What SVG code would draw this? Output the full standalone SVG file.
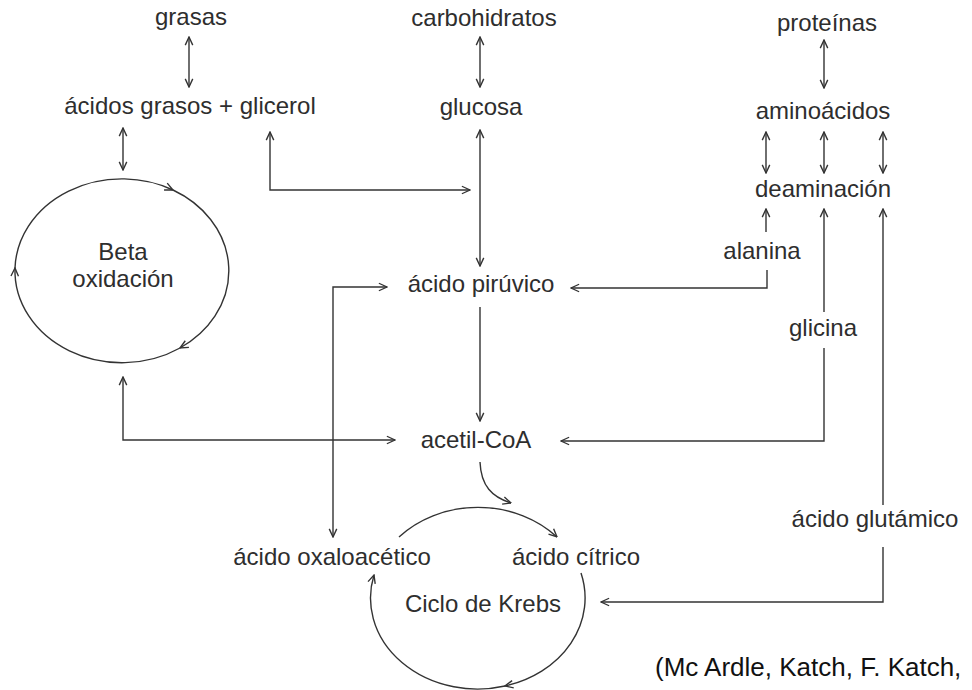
<svg xmlns="http://www.w3.org/2000/svg" width="972" height="690" viewBox="0 0 972 690">
<style>
text{font-family:"Liberation Sans",Arial,sans-serif;font-size:24px;fill:#2e2e2e;text-anchor:middle}
.cite{font-size:26px;fill:#111;text-anchor:start}
.c{fill:none;stroke:#333;stroke-width:1.4}
.a{marker-end:url(#ah)}
.d{marker-start:url(#ah);marker-end:url(#ah)}
</style>
<defs>
<marker id="ah" viewBox="0 0 8 8" refX="7.5" refY="4" markerWidth="10" markerHeight="10" markerUnits="userSpaceOnUse" orient="auto-start-reverse">
<path d="M1,1 L7.5,4 L1,7" fill="none" stroke="#333" stroke-width="1.1"/>
</marker>
</defs>
<rect width="972" height="690" fill="#fff"/>
<g id="connectors">
<path class="c d" d="M189,37 V87"/>
<path class="c d" d="M123,128 V170"/>
<path class="c d" d="M123,377 V440 H395"/>
<path class="c d" d="M270,132 V190 H470"/>
<path class="c d" d="M480,37 V87"/>
<path class="c d" d="M480,130 V266"/>
<path class="c a" d="M480,307 V421"/>
<path class="c d" d="M387,287 H333 V537"/>
<path class="c a" d="M767,270 V288 H571"/>
<path class="c a" d="M766,232 V209"/>
<path class="c a" d="M824,312 V209"/>
<path class="c a" d="M824,348 V441 H561"/>
<path class="c a" d="M883,505 V209"/>
<path class="c a" d="M883,547 V602 H601"/>
<path class="c d" d="M824,40 V88"/>
<path class="c d" d="M766,132 V173"/>
<path class="c d" d="M824,132 V173"/>
<path class="c d" d="M883,132 V173"/>
<path class="c a" d="M480,462 C481,486 492,497 511,503"/>
</g>
<g id="beta">
<path class="c a" d="M15,268 A107,92 0 0 1 173,190"/>
<path class="c a" d="M173,190 A107,92 0 0 1 180,348"/>
<path class="c a" d="M180,348 A107,92 0 0 1 15,268"/>
<text x="123" y="260">Beta</text>
<text x="123" y="287">oxidación</text>
</g>
<g id="krebs">
<path class="c a" d="M399,537 A107,91 0 0 1 557,537"/>
<path class="c a" d="M581,573 A107,91 0 0 1 505,686"/>
<path class="c a" d="M505,686 A107,91 0 0 1 374,575"/>
<text x="483" y="612">Ciclo de Krebs</text>
</g>
<g id="grasas"><text x="191" y="25">grasas</text></g>
<g id="acidos-grasos"><text x="190" y="114">ácidos grasos + glicerol</text></g>
<g id="carbohidratos"><text x="484" y="26">carbohidratos</text></g>
<g id="glucosa"><text x="481" y="115">glucosa</text></g>
<g id="proteinas"><text x="827" y="31">proteínas</text></g>
<g id="aminoacidos"><text x="823" y="119">aminoácidos</text></g>
<g id="deaminacion"><text x="823" y="197">deaminación</text></g>
<g id="alanina"><text x="762" y="259">alanina</text></g>
<g id="piruvico"><text x="481" y="292">ácido pirúvico</text></g>
<g id="glicina"><text x="823" y="336">glicina</text></g>
<g id="acetil"><text x="476" y="448">acetil-CoA</text></g>
<g id="glutamico"><text x="875" y="527">ácido glutámico</text></g>
<g id="oxaloacetico"><text x="332" y="565">ácido oxaloacético</text></g>
<g id="citrico"><text x="576" y="565">ácido cítrico</text></g>
<g id="cita"><text class="cite" x="655" y="676">(Mc Ardle, Katch, F. Katch,</text></g>
</svg>
